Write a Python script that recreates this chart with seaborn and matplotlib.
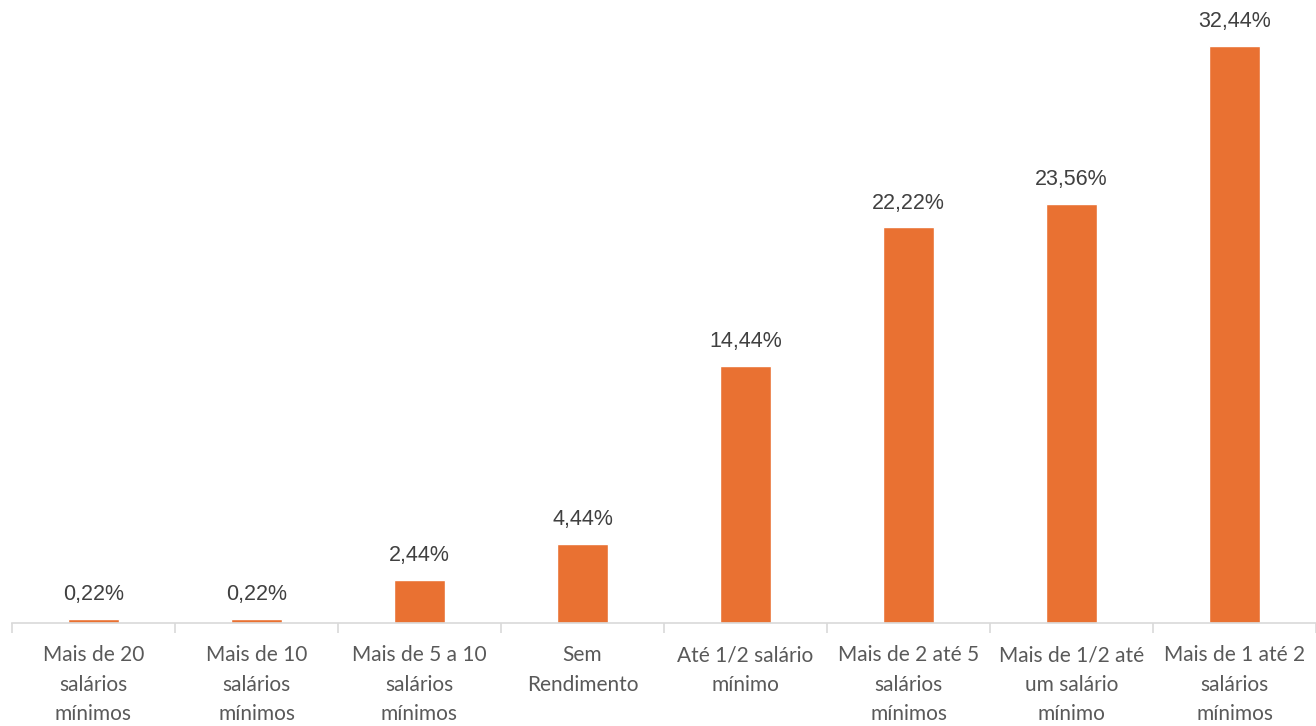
import pandas as pd
import seaborn as sns
import matplotlib.pyplot as plt
from matplotlib.ticker import FixedLocator

categories = [
    "Mais de 20\nsalários\nmínimos",
    "Mais de 10\nsalários\nmínimos",
    "Mais de 5 a 10\nsalários\nmínimos",
    "Sem\nRendimento",
    "Até 1/2 salário\nmínimo",
    "Mais de 2 até 5\nsalários\nmínimos",
    "Mais de 1/2 até\num salário\nmínimo",
    "Mais de 1 até 2\nsalários\nmínimos",
]
values = [0.22, 0.22, 2.44, 4.44, 14.44, 22.22, 23.56, 32.44]
labels = ["0,22%", "0,22%", "2,44%", "4,44%", "14,44%", "22,22%", "23,56%", "32,44%"]

df = pd.DataFrame({"cat": categories, "val": values})

sns.set_style("white")
plt.rcParams["font.family"] = ["Lato", "DejaVu Sans"]

fig = plt.figure(figsize=(13.16, 7.26), dpi=100)
ax = fig.add_axes([12 / 1316, 103 / 726, 1 - 12 / 1316, 623 / 726])

sns.barplot(data=df, x="cat", y="val", color="#E97132", width=0.31,
            saturation=1, ax=ax)

ax.set_ylim(0, 35)
ax.set_xlim(-0.5, len(categories) - 0.5)
ax.set_xlabel("")
ax.set_ylabel("")
ax.set_yticks([])

for sp in ["top", "right", "left"]:
    ax.spines[sp].set_visible(False)
ax.spines["bottom"].set_color("#D9D9D9")
ax.spines["bottom"].set_linewidth(1.2)

ax.tick_params(axis="x", which="major", length=0, pad=16,
               labelsize=15, labelcolor="#595959")
ax.xaxis.set_minor_locator(FixedLocator([i - 0.5 for i in range(len(categories) + 1)]))
ax.tick_params(axis="x", which="minor", length=7, width=1.2, color="#D9D9D9",
               bottom=True)
for t in ax.get_xticklabels():
    t.set_linespacing(1.6)
    t.set_va("top")

for i, (v, lab) in enumerate(zip(values, labels)):
    ax.annotate(lab, (i, v), xytext=(0, 10), textcoords="offset points",
                ha="center", va="bottom", fontsize=15.5,
                color="#404040", family=["Liberation Sans", "DejaVu Sans"])

plt.savefig("out.png", dpi=100)
plt.close()
